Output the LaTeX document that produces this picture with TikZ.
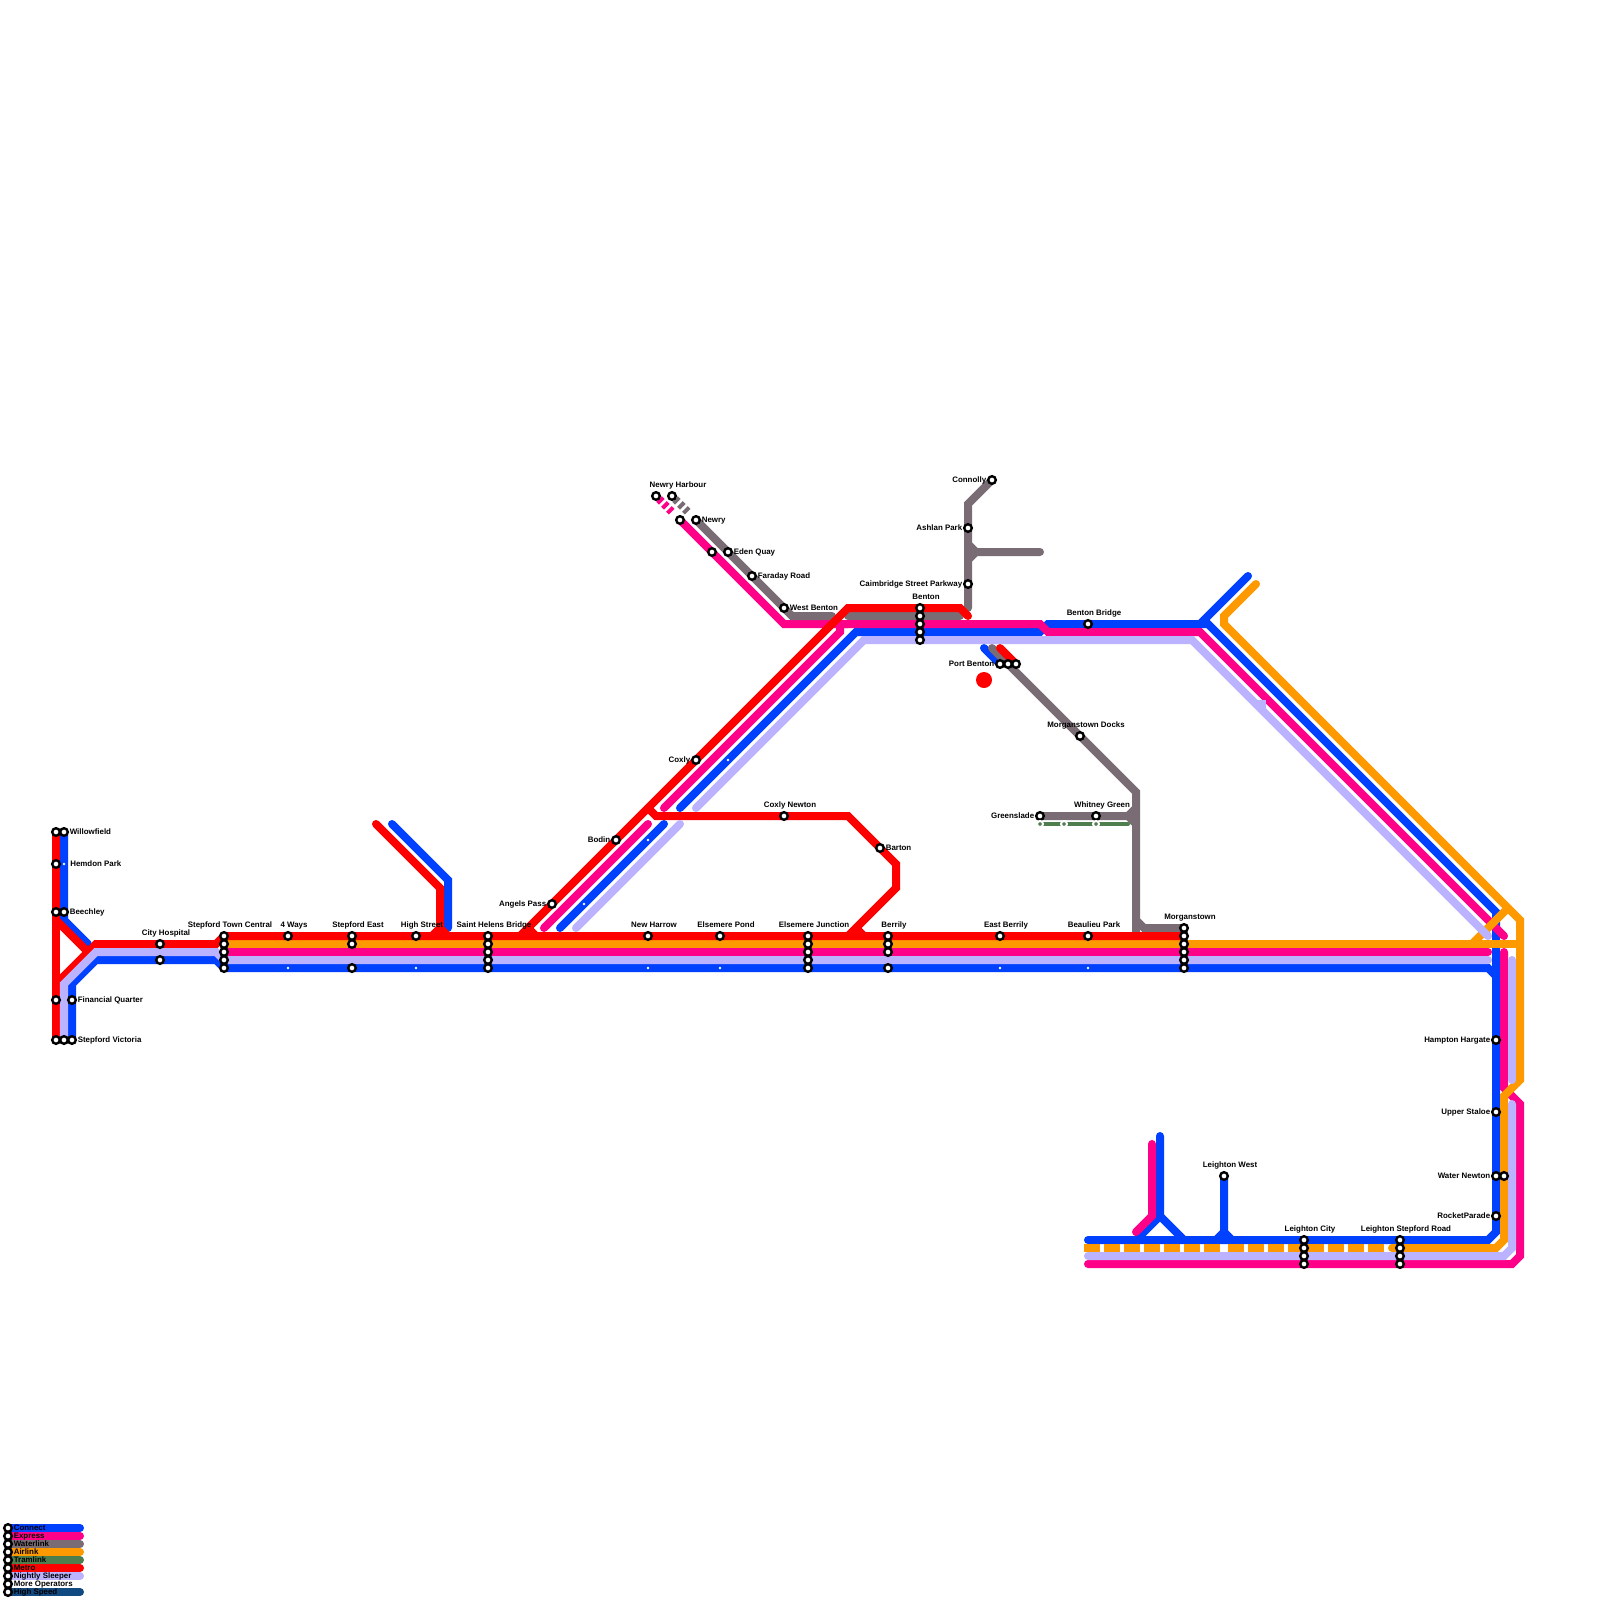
\documentclass[tikz,border=0pt]{standalone}
\usepackage{fontspec}
\setmainfont{Liberation Sans}
\usetikzlibrary{backgrounds}

\definecolor{connect}{HTML}{0040FF}
\definecolor{express}{HTML}{FF0088}
\definecolor{waterlink}{HTML}{7A6C75}
\definecolor{airlink}{HTML}{FF9900}
\definecolor{tramlink}{HTML}{4E7D4E}
\definecolor{metro}{HTML}{FF0000}
\definecolor{sleeper}{HTML}{BBB3FF}
\definecolor{highspeed}{HTML}{104A80}

\begin{document}
\begin{tikzpicture}[
  x=0.01cm, y=-0.01cm,
  route/.style={line width=0.08cm, line cap=round, line join=miter},
  stn/.style={circle, draw=black, fill=white, line width=0.024cm,
              minimum size=0.076cm, inner sep=0pt, outer sep=0pt},
  halt/.style={circle, fill=white, minimum size=0.026cm, inner sep=0pt, outer sep=0pt},
  tramstn/.style={circle, draw=white, fill=tramlink, line width=0.02cm,
                  minimum size=0.06cm, inner sep=0pt, outer sep=0pt},
  lbl/.style={font=\fontsize{2.25}{2.6}\selectfont\bfseries, inner sep=0pt, outer sep=0pt,
              text height=0.06cm, text depth=0.02cm},
  up/.style={label={[lbl,xshift=0.06cm,yshift=0.03cm]above:#1}},
  rt/.style={label={[lbl,xshift=0.02cm]right:#1}},
  lt/.style={label={[lbl,xshift=-0.02cm]left:#1}},
]
  \useasboundingbox (0,0) rectangle (1600,1600);

  % stations, left side
  \node[stn] (willowR) at (56,832) {};
  \node[stn,rt=Willowfield] (willowB) at (64,832) {};
  \node[stn] (hemdonR) at (56,864) {};
  \node[halt,rt={\hspace{0.03cm}Hemdon Park}] (hemdonB) at (64,864) {};
  \node[stn] (beechR) at (56,912) {};
  \node[stn,rt=Beechley] (beechB) at (64,912) {};
  \node[stn] (finR) at (56,1000) {};
  \node[stn,rt=Financial Quarter] (finB) at (72,1000) {};
  \node[stn] (vicR) at (56,1040) {};
  \node[stn] (vicL) at (64,1040) {};
  \node[stn,rt=Stepford Victoria] (vicB) at (72,1040) {};
  \node[stn,up=City Hospital] (hospR) at (160,944) {};
  \node[stn] (hospB) at (160,960) {};

  % stations, main row
  \node[stn,up=Stepford Town Central] (town1) at (224,936) {};
  \node[stn] (town2) at (224,944) {};
  \node[stn] (town3) at (224,952) {};
  \node[stn] (town4) at (224,960) {};
  \node[stn] (town5) at (224,968) {};
  \node[stn,up=4 Ways] (ways) at (288,936) {};
  \node[halt] (waysB) at (288,968) {};
  \node[stn,up=Stepford East] (east1) at (352,936) {};
  \node[stn] (east2) at (352,944) {};
  \node[stn] (east3) at (352,968) {};
  \node[stn,up=High Street] (high) at (416,936) {};
  \node[halt] (highB) at (416,968) {};
  \node[stn,up=Saint Helens Bridge] (helens1) at (488,936) {};
  \node[stn] (helens2) at (488,944) {};
  \node[stn] (helens3) at (488,952) {};
  \node[stn] (helens4) at (488,960) {};
  \node[stn] (helens5) at (488,968) {};
  \node[stn,up=New Harrow] (harrow) at (648,936) {};
  \node[halt] (harrowB) at (648,968) {};
  \node[stn,up=Elsemere Pond] (pond) at (720,936) {};
  \node[halt] (pondB) at (720,968) {};
  \node[stn,up=Elsemere Junction] (elsem1) at (808,936) {};
  \node[stn] (elsem2) at (808,944) {};
  \node[stn] (elsem3) at (808,952) {};
  \node[stn] (elsem4) at (808,960) {};
  \node[stn] (elsem5) at (808,968) {};
  \node[stn,up=Berrily] (berr1) at (888,936) {};
  \node[stn] (berr2) at (888,944) {};
  \node[stn] (berr3) at (888,952) {};
  \node[stn] (berr4) at (888,968) {};
  \node[stn,up=East Berrily] (eastb) at (1000,936) {};
  \node[halt] (eastbB) at (1000,968) {};
  \node[stn,up=Beaulieu Park] (beau) at (1088,936) {};
  \node[halt] (beauB) at (1088,968) {};
  \node[stn,up=Morganstown] (morg1) at (1184,928) {};
  \node[stn] (morg2) at (1184,936) {};
  \node[stn] (morg3) at (1184,944) {};
  \node[stn] (morg4) at (1184,952) {};
  \node[stn] (morg5) at (1184,960) {};
  \node[stn] (morg6) at (1184,968) {};

  % stations, diagonals and top
  \node[stn,lt=Angels Pass] (angels) at (552,904) {};
  \node[halt] (angelsB) at (584,904) {};
  \node[stn,lt=Bodin] (bodin) at (616,840) {};
  \node[halt] (bodinB) at (648,840) {};
  \node[stn,lt=Coxly] (coxly) at (696,760) {};
  \node[halt] (coxlyB) at (728,760) {};
  \node[stn,up=Coxly Newton] (coxnew) at (784,816) {};
  \node[stn,rt=Barton] (barton) at (880,848) {};
  \node[stn] (harbP) at (656,496) {};
  \node[stn,up=Newry Harbour] (harbG) at (672,496) {};
  \node[stn] (newryP) at (680,520) {};
  \node[stn,rt=Newry] (newryG) at (696,520) {};
  \node[stn] (edenP) at (712,552) {};
  \node[stn,rt=Eden Quay] (edenG) at (728,552) {};
  \node[stn,rt=Faraday Road] (faraday) at (752,576) {};
  \node[stn,rt=West Benton] (westb) at (784,608) {};
  \node[stn,up=Benton] (benton1) at (920,608) {};
  \node[stn] (benton2) at (920,616) {};
  \node[stn] (benton3) at (920,624) {};
  \node[stn] (benton4) at (920,632) {};
  \node[stn] (benton5) at (920,640) {};
  \node[stn,lt=Connolly] (connolly) at (992,480) {};
  \node[stn,lt=Ashlan Park] (ashlan) at (968,528) {};
  \node[stn,lt=Caimbridge Street Parkway] (caim) at (968,584) {};
  \node[stn,up=Benton Bridge] (bbridge) at (1088,624) {};
  \node[stn,lt=Port Benton] (port1) at (1000,664) {};
  \node[stn] (port2) at (1008,664) {};
  \node[stn] (port3) at (1016,664) {};
  \node[circle, fill=metro, minimum size=0.16cm, inner sep=0pt] (spot) at (984,680) {};
  \node[stn,up=Morganstown Docks] (docks) at (1080,736) {};
  \node[stn,lt=Greenslade] (green) at (1040,816) {};
  \node[stn,up=Whitney Green] (whitney) at (1096,816) {};
  \node[tramstn] (tram1) at (1040,824) {};
  \node[tramstn] (tram2) at (1064,824) {};
  \node[tramstn] (tram3) at (1096,824) {};

  % stations, right and bottom
  \node[stn,lt=Hampton Hargate] (hampton) at (1496,1040) {};
  \node[stn,lt=Upper Staloe] (staloe) at (1496,1112) {};
  \node[stn,lt=Water Newton] (water1) at (1496,1176) {};
  \node[stn] (water2) at (1504,1176) {};
  \node[stn,lt=RocketParade] (rocket) at (1496,1216) {};
  \node[stn,up=Leighton West] (lwest) at (1224,1176) {};
  \node[stn,up=Leighton City] (lcity1) at (1304,1240) {};
  \node[stn] (lcity2) at (1304,1248) {};
  \node[stn] (lcity3) at (1304,1256) {};
  \node[stn] (lcity4) at (1304,1264) {};
  \node[stn,up=Leighton Stepford Road] (lroad1) at (1400,1240) {};
  \node[stn] (lroad2) at (1400,1248) {};
  \node[stn] (lroad3) at (1400,1256) {};
  \node[stn] (lroad4) at (1400,1264) {};

  % legend
  \node[stn,rt=Connect] (keyA) at (8,1528) {};
  \node[stn,rt=Express] (keyB) at (8,1536) {};
  \node[stn,rt=Waterlink] (keyC) at (8,1544) {};
  \node[stn,rt=Airlink] (keyD) at (8,1552) {};
  \node[stn,rt=Tramlink] (keyE) at (8,1560) {};
  \node[stn,rt=Metro] (keyF) at (8,1568) {};
  \node[stn,rt=Nightly Sleeper] (keyG) at (8,1576) {};
  \node[stn,rt=More Operators] (keyH) at (8,1584) {};
  \node[stn,rt=High Speed] (keyI) at (8,1592) {};
  \coordinate (keyAe) at (80,1528); \coordinate (keyBe) at (80,1536);
  \coordinate (keyCe) at (80,1544); \coordinate (keyDe) at (80,1552);
  \coordinate (keyEe) at (80,1560); \coordinate (keyFe) at (80,1568);
  \coordinate (keyGe) at (80,1576); \coordinate (keyIe) at (80,1592);

  % bends and free ends
  \coordinate (b1) at (64,920); \coordinate (b2) at (88,944);
  \coordinate (b3) at (72,984); \coordinate (b4) at (96,960); \coordinate (b5) at (216,960);
  \coordinate (b6) at (1488,968); \coordinate (b7) at (1496,976);
  \coordinate (b8) at (680,808); \coordinate (b9) at (856,632); \coordinate (b10) at (1040,632);
  \coordinate (b11) at (1048,624); \coordinate (b12) at (1200,624); \coordinate (b13) at (1248,576);
  \coordinate (b14) at (1208,624); \coordinate (b15) at (1496,912); \coordinate (b16) at (1496,1232);
  \coordinate (b17) at (1488,1240); \coordinate (b18) at (1088,1240);
  \coordinate (b19) at (560,928); \coordinate (b20) at (664,824);
  \coordinate (b21) at (392,824); \coordinate (b22) at (448,880); \coordinate (b23) at (448,928);
  \coordinate (b24) at (1160,1136); \coordinate (b25) at (1160,1216);
  \coordinate (b26) at (1136,1240); \coordinate (b27) at (1184,1240);
  \coordinate (b28) at (1224,1232); \coordinate (b29) at (1216,1240); \coordinate (b30) at (1232,1240);
  \coordinate (b31) at (984,648);

  \coordinate (p1) at (1488,952); \coordinate (p2) at (784,624); \coordinate (p3) at (1040,624);
  \coordinate (p4) at (1048,632); \coordinate (p5) at (1200,632); \coordinate (p6) at (1504,936);
  \coordinate (p7) at (664,808); \coordinate (p8) at (840,632); \coordinate (p9) at (840,624);
  \coordinate (p10) at (848,624); \coordinate (p11) at (544,928); \coordinate (p12) at (648,824);
  \coordinate (p13) at (1504,952); \coordinate (p14) at (1504,1088); \coordinate (p15) at (1520,1104);
  \coordinate (p16) at (1520,1256); \coordinate (p17) at (1512,1264); \coordinate (p18) at (1088,1264);
  \coordinate (p19) at (1152,1144); \coordinate (p20) at (1152,1216); \coordinate (p21) at (1136,1232);
  \coordinate (p22) at (659,499); \coordinate (p23) at (673,513);

  \coordinate (w1) at (968,504); \coordinate (w2) at (968,608); \coordinate (w3) at (968,544);
  \coordinate (w4) at (976,552); \coordinate (w5) at (1040,552); \coordinate (w6) at (968,560);
  \coordinate (w7) at (792,616); \coordinate (w8) at (832,616); \coordinate (w9) at (848,616);
  \coordinate (w10) at (960,616); \coordinate (w11) at (992,648); \coordinate (w12) at (1136,792);
  \coordinate (w13) at (1136,932); \coordinate (w14) at (1136,920); \coordinate (w15) at (1144,928);
  \coordinate (w16) at (1128,816); \coordinate (w17) at (1136,808); \coordinate (w18) at (1136,824);
  \coordinate (w19) at (675,499); \coordinate (w20) at (689,513);

  \coordinate (o1) at (1520,944); \coordinate (o2) at (1256,584); \coordinate (o3) at (1224,616);
  \coordinate (o4) at (1224,624); \coordinate (o5) at (1512,912); \coordinate (o6) at (1520,920);
  \coordinate (o7) at (1520,1080); \coordinate (o8) at (1504,1096); \coordinate (o9) at (1504,1240);
  \coordinate (o10) at (1496,1248); \coordinate (o11) at (1392,1248); \coordinate (o12) at (1472,944);
  \coordinate (o13) at (1508,908); \coordinate (o14) at (1084,1248); \coordinate (o15) at (1220,1248);
  \coordinate (o16) at (1228,1248); \coordinate (o17) at (1388,1248); \coordinate (t1) at (1128,824);

  \coordinate (m1) at (56,920); \coordinate (m2) at (88,952); \coordinate (m3) at (56,984);
  \coordinate (m4) at (96,944); \coordinate (m5) at (216,944);
  \coordinate (m6) at (376,824); \coordinate (m7) at (440,888); \coordinate (m8) at (440,928);
  \coordinate (m9) at (432,936); \coordinate (m10) at (448,936);
  \coordinate (m11) at (520,936); \coordinate (m12) at (848,608); \coordinate (m13) at (960,608);
  \coordinate (m14) at (968,616); \coordinate (m15) at (528,928); \coordinate (m16) at (536,936);
  \coordinate (m17) at (648,808); \coordinate (m18) at (656,816); \coordinate (m19) at (848,816);
  \coordinate (m20) at (896,864); \coordinate (m21) at (896,888); \coordinate (m22) at (848,936);
  \coordinate (m23) at (856,928); \coordinate (m24) at (864,936); \coordinate (m25) at (1000,648);

  \coordinate (n1) at (1488,960); \coordinate (n2) at (64,984); \coordinate (n3) at (96,952);
  \coordinate (n4) at (216,952); \coordinate (n5) at (696,808); \coordinate (n6) at (864,640);
  \coordinate (n7) at (1192,640); \coordinate (n8) at (1256,704); \coordinate (n9) at (1266,704);
  \coordinate (n11) at (1488,936); \coordinate (n12) at (576,928);
  \coordinate (n13) at (680,824); \coordinate (n14) at (1512,960); \coordinate (n15) at (1512,1080);
  \coordinate (n16) at (1512,1104); \coordinate (n17) at (1512,1248); \coordinate (n18) at (1504,1256);
  \coordinate (n19) at (1088,1256);

  \begin{scope}[on background layer]
    % Connect
    \begin{scope}[route, draw=connect]
      \draw (willowB.center) -- (b1) -- (b2);
      \draw (vicB.center) -- (b3) -- (b4) -- (b5) -- (town5.center) -- (b6) -- (b7);
      \draw (b8) -- (b9) -- (b10) -- (b11) -- (b12) -- (b13);
      \draw (b12) -- (b14) -- (b15) -- (b16) -- (b17) -- (b18);
      \draw (b19) -- (b20);
      \draw (b21) -- (b22) -- (b23);
      \draw (b24) -- (b25) -- (b26);
      \draw (b25) -- (b27);
      \draw (lwest.center) -- (b28) -- (b29);
      \draw (b28) -- (b30);
      \draw (b31) -- (port1.center);
      \draw (keyA.center) -- (keyAe);
    \end{scope}
    % Express
    \begin{scope}[route, draw=express]
      \draw (town3.center) -- (p1);
      \draw (newryP.center) -- (p2) -- (p3) -- (p4) -- (p5) -- (p6);
      \draw (p7) -- (p8) -- (p9) -- (p10);
      \draw (p11) -- (p12);
      \draw (p13) -- (p14) -- (p15) -- (p16) -- (p17) -- (p18);
      \draw (p19) -- (p20) -- (p21);
      \draw[line cap=butt, dash pattern=on 0.04cm off 0.03cm] (p22) -- (p23);
      \draw (keyB.center) -- (keyBe);
    \end{scope}
    % Waterlink
    \begin{scope}[route, draw=waterlink]
      \draw (connolly.center) -- (w1) -- (w2);
      \draw (w3) -- (w4) -- (w5);
      \draw (w6) -- (w4);
      \draw (newryG.center) -- (w7) -- (w8);
      \draw (w9) -- (w10);
      \draw (w11) -- (w12) -- (w13);
      \draw (w14) -- (w15) -- (morg1.center);
      \draw (green.center) -- (w16) -- (w17);
      \draw (w16) -- (w18);
      \draw[line cap=butt, dash pattern=on 0.04cm off 0.03cm] (w19) -- (w20);
      \draw (keyC.center) -- (keyCe);
    \end{scope}
    % Airlink
    \begin{scope}[route, draw=airlink]
      \draw (town2.center) -- (o1);
      \draw (o2) -- (o3) -- (o4) -- (o5) -- (o6) -- (o7) -- (o8) -- (o9) -- (o10) -- (o11);
      \draw (o12) -- (o13);
      \draw[line cap=butt, dash pattern=on 0.16cm off 0.04cm] (o14) -- (o15);
      \draw[line cap=butt, dash pattern=on 0.16cm off 0.04cm] (o16) -- (o17);
      \draw (keyD.center) -- (keyDe);
    \end{scope}
    % Tramlink
    \draw[route, line width=0.04cm, draw=tramlink] (tram1.center) -- (t1);
    \draw[route, draw=tramlink] (keyE.center) -- (keyEe);
    % Metro
    \begin{scope}[route, draw=metro]
      \draw (willowR.center) -- (vicR.center);
      \draw (m1) -- (m2);
      \draw (m3) -- (m4) -- (m5) -- (town1.center) -- (morg2.center);
      \draw (m6) -- (m7) -- (m8) -- (m9);
      \draw (m8) -- (m10);
      \draw (m11) -- (m12) -- (m13) -- (m14);
      \draw (m15) -- (m16);
      \draw (m17) -- (m18) -- (m19) -- (m20) -- (m21) -- (m22);
      \draw (m23) -- (m24);
      \draw (m25) -- (port3.center);
      \draw (keyF.center) -- (keyFe);
    \end{scope}
    % Nightly Sleeper
    \begin{scope}[route, draw=sleeper]
      \draw (vicL.center) -- (n2) -- (n3) -- (n4) -- (town4.center) -- (n1);
      \draw (n5) -- (n6) -- (n7) -- (n11);
      \draw[line cap=butt] (n8) -- (n9);
      \draw (n12) -- (n13);
      \draw (n14) -- (n15);
      \draw (n16) -- (n17) -- (n18) -- (n19);
      \draw (keyG.center) -- (keyGe);
    \end{scope}
    % High Speed
    \draw[route, draw=highspeed] (keyI.center) -- (keyIe);
  \end{scope}
\end{tikzpicture}
\end{document}
